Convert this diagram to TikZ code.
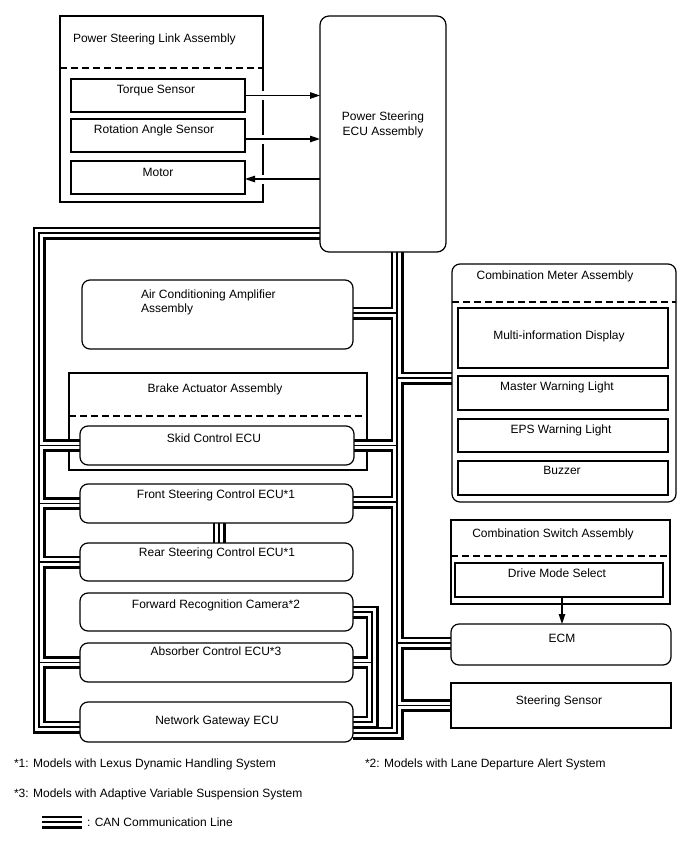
\documentclass[tikz,border=0pt]{standalone}
\usepackage{fontspec}
\setmainfont{Liberation Sans}
\usetikzlibrary{arrows.meta,calc}
\newcommand{\canpaths}[1]{%
  % left trunk
  \draw[#1] (ecu.west |- 0,233) -- (ltc) -- (lbc) -- (ngw.west |- lbc);
  \draw[#1] (ltc |- skid.west) -- (skid.west);
  \draw[#1] (ltc |- front.west) -- (front.west);
  \draw[#1] (ltc |- rear.west) -- (rear.west);
  \draw[#1] (ltc |- abs.west) -- (abs.west);
  % central trunk
  \draw[#1] (ecu.south -| ctc) -- (ctc) -- (ctc -| ngw.east);
  \draw[#1] (ctc |- 0,313) -- (ac.east |- 0,313);
  \draw[#1] (ctc |- 0,378) -- (cma.west |- 0,378);
  \draw[#1] (ctc |- skid.east) -- (skid.east);
  \draw[#1] (ctc |- 0,502) -- (front.east |- 0,502);
  \draw[#1] (ctc |- 0,643) -- (ecm.west |- 0,643);
  \draw[#1] (ctc |- ss.west) -- (ss.west);
  % front-rear link
  \draw[#1] (front.south -| 219,0) -- (rear.north -| 219,0);
  % sub bus
  \draw[#1] (fwd.east) -- (fwd.east -| sbc) -- (sbc) -- (sbc -| ngw.east);
  \draw[#1] (abs.east) -- (abs.east -| sbc);
  % legend
  \draw[#1] (lgA) -- (lgB);
}
\begin{document}
\begin{tikzpicture}[x=1pt,y=-1pt,
  font=\fontsize{12}{15}\selectfont,
  every node/.style={inner sep=0pt, outer sep=0pt},
  rbox/.style={draw, line width=1.2pt, fill=white, rectangle, anchor=north west},
  rrbox/.style={rbox, rounded corners=8pt},
  txt/.style={text height=8.6pt, text depth=2.4pt},
  dline/.style={line width=1.1pt, dash pattern=on 7pt off 4pt},
  arr/.style={line width=1.2pt, -{Triangle[length=10pt,width=6.5pt]}},
  halo/.style={white, line width=9pt},
  busA/.style={line width=13pt, black, line join=miter, line cap=butt},
  busB/.style={line width=7.6pt, white, line join=miter, line cap=butt},
  busC/.style={line width=1.3pt, black, line join=miter, line cap=butt}]
\useasboundingbox (0,0) rectangle (688,852);
\fill[white] (0,0) rectangle (688,852);

% bus corner coordinates
\coordinate (ltc) at (39,233);
\coordinate (lbc) at (39,727);
\coordinate (ctc) at (397,733);
\coordinate (sbc) at (372,722);
\coordinate (lgA) at (42,822);
\coordinate (lgB) at (82,822);

% Power steering link assembly
\node[rbox, minimum width=203pt, minimum height=186pt] (psla) at (60,16) {};
\draw[dline] (psla.west |- 0,68) -- (psla.east |- 0,68);
\node[txt, anchor=west] (tpsla) at (73,39) {Power Steering Link Assembly};
\node[rbox, minimum width=174pt, minimum height=33pt] (tq) at (71,79) {};
\node[rbox, minimum width=174pt, minimum height=33pt] (ras) at (71,119) {};
\node[rbox, minimum width=174pt, minimum height=33pt] (mot) at (71,161) {};
\node[txt] (ttq) at (156,90) {Torque Sensor};
\node[txt] (tras) at (154,130) {Rotation Angle Sensor};
\node[txt] (tmot) at (158,173) {Motor};

% brake actuator (under the bus)
\node[rbox, minimum width=298pt, minimum height=97pt] (baa) at (69,373) {};
\draw[dline] (baa.west |- 0,416) -- (baa.east |- 0,416);
\node[txt] (tbaa) at (215,389) {Brake Actuator Assembly};

% placeholders for named boxes (shapes drawn later)
\path (320,16) node[anchor=north west, minimum width=126pt, minimum height=236pt] (ecu) {};
\path (82,280) node[anchor=north west, minimum width=271pt, minimum height=69pt] (ac) {};
\path (80,426) node[anchor=north west, minimum width=274pt, minimum height=39pt] (skid) {};
\path (80,484) node[anchor=north west, minimum width=273pt, minimum height=39pt] (front) {};
\path (80,543) node[anchor=north west, minimum width=273pt, minimum height=38pt] (rear) {};
\path (80,593) node[anchor=north west, minimum width=273pt, minimum height=38pt] (fwd) {};
\path (80,643) node[anchor=north west, minimum width=273pt, minimum height=39pt] (abs) {};
\path (80,702) node[anchor=north west, minimum width=273pt, minimum height=40pt] (ngw) {};
\path (452,264) node[anchor=north west, minimum width=224pt, minimum height=238pt] (cma) {};
\path (451,624) node[anchor=north west, minimum width=220pt, minimum height=41pt] (ecm) {};
\path (451,683) node[anchor=north west, minimum width=220pt, minimum height=45pt] (ss) {};

% CAN buses
\canpaths{busA}
\canpaths{busB}
\canpaths{busC}

% boxes over the bus
\draw[rrbox, rounded corners=9pt] (ecu.north west) rectangle (ecu.south east);
\draw[rrbox] (ac.north west) rectangle (ac.south east);
\draw[rrbox] (skid.north west) rectangle (skid.south east);
\draw[rrbox] (front.north west) rectangle (front.south east);
\draw[rrbox] (rear.north west) rectangle (rear.south east);
\draw[rrbox] (fwd.north west) rectangle (fwd.south east);
\draw[rrbox] (abs.north west) rectangle (abs.south east);
\draw[rrbox] (ngw.north west) rectangle (ngw.south east);
\draw[rrbox] (cma.north west) rectangle (cma.south east);
\draw[rrbox] (ecm.north west) rectangle (ecm.south east);
\draw[rbox] (ss.north west) rectangle (ss.south east);

\node[txt, align=center, font=\fontsize{12}{15}\selectfont] (tecu) at (383,132) {Power Steering\\ECU Assembly};
\node[txt, anchor=west, align=left, font=\fontsize{12}{14}\selectfont] (tac) at (141,309) {Air Conditioning Amplifier\\Assembly};
\node[txt] (tskid) at (214,439) {Skid Control ECU};
\node[txt] (tfront) at (216,495) {Front Steering Control ECU*1};
\node[txt] (trear) at (217,553) {Rear Steering Control ECU*1};
\node[txt] (tfwd) at (216,605) {Forward Recognition Camera*2};
\node[txt] (tabs) at (216,652) {Absorber Control ECU*3};
\node[txt] (tngw) at (217,721) {Network Gateway ECU};

% combination meter
\draw[dline] (cma.west |- 0,302) -- (cma.east |- 0,302);
\node[txt] (tcma) at (555,276) {Combination Meter Assembly};
\node[rbox, minimum width=210pt, minimum height=60pt] (mid) at (458,308) {};
\node[rbox, minimum width=210pt, minimum height=34pt] (mwl) at (458,376) {};
\node[rbox, minimum width=210pt, minimum height=33pt] (eps) at (458,419) {};
\node[rbox, minimum width=210pt, minimum height=34pt] (buz) at (458,461) {};
\node[txt] (tmid) at (559,336) {Multi-information Display};
\node[txt] (tmwl) at (557,387) {Master Warning Light};
\node[txt] (teps) at (561,430) {EPS Warning Light};
\node[txt] (tbuz) at (562,471) {Buzzer};

% combination switch
\node[rbox, minimum width=219pt, minimum height=84pt] (csa) at (451,520) {};
\draw[dline] (csa.west |- 0,556) -- (csa.east |- 0,556);
\node[txt] (tcsa) at (553,534) {Combination Switch Assembly};
\node[rbox, minimum width=208pt, minimum height=34pt] (dms) at (455,563) {};
\node[txt] (tdms) at (557,574) {Drive Mode Select};
\node[txt] (tecm) at (562,639) {ECM};
\node[txt] (tss) at (559,701) {Steering Sensor};

% arrows
\draw[halo] (tq.east -| 256,0) -- (tq.east -| 270,0);
\draw[halo] (ras.east |- 0,139) ++(11,0) -- ++(14,0);
\draw[halo] (mot.east |- 0,179) ++(11,0) -- ++(14,0);
\draw[arr] (tq.east) -- (tq.east -| ecu.west);
\draw[arr] (ras.east |- 0,139) -- (ecu.west |- 0,139);
\draw[arr] (ecu.west |- 0,179) -- (mot.east |- 0,179);
\draw[arr] (dms.south -| 562,0) -- (ecm.north -| 562,0);

% footnotes
\node[txt, anchor=west] (fn1) at (14,764) {*1: Models with Lexus Dynamic Handling System};
\node[txt, anchor=west] (fn2) at (365,764) {*2: Models with Lane Departure Alert System};
\node[txt, anchor=west] (fn3) at (14,794) {*3: Models with Adaptive Variable Suspension System};
\node[txt, anchor=west] (leg) at (87,823) {: CAN Communication Line};
\end{tikzpicture}
\end{document}
